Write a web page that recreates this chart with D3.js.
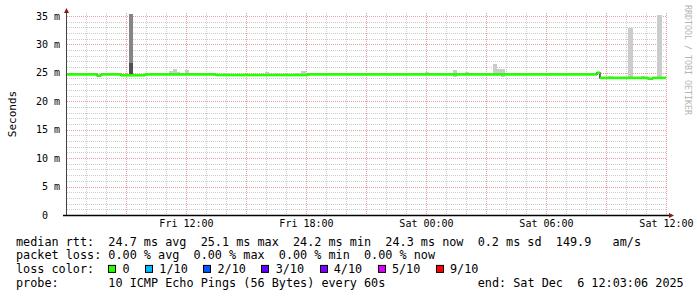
<!DOCTYPE html>
<html>
<head>
<meta charset="utf-8">
<script src="https://cdn.jsdelivr.net/npm/d3@7"></script>
<style>
  html, body { margin: 0; padding: 0; background: #fff; }
  svg { display: block; }
  text { font-family: "DejaVu Sans Mono", monospace; }
</style>
</head>
<body>
<div id="chart"></div>
<script>
// ── Data ──────────────────────────────────────────────────────
const timeStart = '2025-12-05 06:03:06';
const timeEnd   = '2025-12-06 12:03:06';

// median rtt (ms), step starts
const medianTimes = [
  '2025-12-05 06:03', '2025-12-05 07:33', '2025-12-05 07:45', '2025-12-05 08:45',
  '2025-12-05 09:57', '2025-12-05 13:30', '2025-12-05 18:06', '2025-12-06 08:33',
  '2025-12-06 08:42', '2025-12-06 11:06', '2025-12-06 11:21'
];
const medianValues = [24.7, 24.5, 24.7, 24.55, 24.7, 24.6, 24.7, 25.0, 24.1, 23.95, 24.1];
const medianEnd = '2025-12-06 12:00';

// smoke bands (spread of the 10 pings)
const smokeFrom = [
  '2025-12-05 09:09', '2025-12-05 09:09', '2025-12-05 11:09', '2025-12-05 11:21', '2025-12-05 11:33',
  '2025-12-05 11:57', '2025-12-05 13:54', '2025-12-05 15:57', '2025-12-05 16:21', '2025-12-05 17:21',
  '2025-12-05 17:45', '2025-12-05 21:45', '2025-12-05 22:21', '2025-12-05 23:21', '2025-12-05 23:57',
  '2025-12-06 00:33', '2025-12-06 00:57', '2025-12-06 01:21', '2025-12-06 01:57', '2025-12-06 03:21',
  '2025-12-06 03:33', '2025-12-06 03:45', '2025-12-06 04:21', '2025-12-06 09:06', '2025-12-06 10:06',
  '2025-12-06 10:45', '2025-12-06 11:33'
];
const smokeTo = [
  '2025-12-05 09:21', '2025-12-05 09:21', '2025-12-05 11:21', '2025-12-05 11:33', '2025-12-05 11:42',
  '2025-12-05 12:09', '2025-12-05 14:12', '2025-12-05 16:09', '2025-12-05 16:33', '2025-12-05 17:45',
  '2025-12-05 18:00', '2025-12-05 21:57', '2025-12-05 22:33', '2025-12-05 23:33', '2025-12-06 00:09',
  '2025-12-06 00:45', '2025-12-06 01:21', '2025-12-06 01:33', '2025-12-06 02:09', '2025-12-06 03:33',
  '2025-12-06 03:45', '2025-12-06 03:57', '2025-12-06 04:39', '2025-12-06 09:21', '2025-12-06 10:21',
  '2025-12-06 10:57', '2025-12-06 11:48'
];
const smokeLo = [
  24.6, 26.8, 24.6, 24.6, 24.6, 24.6, 24.6, 24.6, 24.6, 24.6,
  24.6, 24.6, 24.6, 24.6, 24.6, 24.6, 24.6, 24.3, 24.6, 24.6,
  24.6, 24.3, 24.6, 24.0, 24.0, 24.0, 24.0
];
const smokeHi = [
  26.8, 35.3, 25.3, 25.7, 25.2, 25.4, 25.0, 25.2, 25.0, 25.0,
  25.3, 25.0, 25.0, 25.0, 25.1, 25.0, 25.0, 25.5, 25.1, 26.6,
  25.7, 25.7, 25.0, 24.5, 32.9, 24.5, 35.2
];
const smokePings = [8, 5, 1, 1, 1, 1, 1, 1, 1, 1, 1, 1, 1, 1, 1, 1, 1, 1, 1, 1, 1, 1, 1, 1, 1, 1, 1];

const yTicks = [0, 5, 10, 15, 20, 25, 30, 35];

const lossLabels = ['0', '1/10', '2/10', '3/10', '4/10', '5/10', '9/10'];
const lossColors = ['#26ff00', '#00b8ff', '#0059ff', '#5e00ff', '#7e00ff', '#dd00ff', '#ff0000'];

const statLines = [
  'median rtt:  24.7 ms avg  25.1 ms max  24.2 ms min  24.3 ms now  0.2 ms sd  149.9   am/s',
  'packet loss: 0.00 % avg  0.00 % max  0.00 % min  0.00 % now'
];
const probeLine = 'probe:       10 ICMP Echo Pings (56 Bytes) every 60s';
const endLine = 'end: Sat Dec  6 12:03:06 2025';

// ── Chart ─────────────────────────────────────────────────────
const W = 697, H = 297;
const m = { left: 67, right: 667, top: 13, bottom: 215 };
const parseMin = d3.timeParse('%Y-%m-%d %H:%M');
const parseSec = d3.timeParse('%Y-%m-%d %H:%M:%S');
const t0 = parseSec(timeStart), t1 = parseSec(timeEnd);

const x = d3.scaleTime().domain([t0, t1]).range([m.left, m.right]);
const y = d3.scaleLinear().domain([0, 35.5]).range([m.bottom, m.top]);
const px = v => Math.round(v) + 0.5;

const svg = d3.select('#chart').append('svg')
  .attr('width', W).attr('height', H)
  .attr('xmlns', 'http://www.w3.org/2000/svg');
svg.append('rect').attr('width', W).attr('height', H).attr('fill', '#fff');

const GRID = 'rgba(143,143,143,0.45)', MGRID = 'rgba(222,79,79,0.55)';

// horizontal grid
const grid = svg.append('g');
d3.range(1, 36).forEach(v => {
  grid.append('line')
    .attr('x1', m.left).attr('x2', m.right)
    .attr('y1', px(y(v))).attr('y2', px(y(v)))
    .attr('stroke', v % 5 === 0 ? MGRID : GRID)
    .attr('stroke-dasharray', '1,1');
});

// vertical grid: hourly, major every 3h
d3.timeHour.range(t0, t1).forEach(t => {
  grid.append('line')
    .attr('x1', px(x(t))).attr('x2', px(x(t)))
    .attr('y1', m.top).attr('y2', m.bottom)
    .attr('stroke', t.getHours() % 3 === 0 ? MGRID : GRID)
    .attr('stroke-dasharray', '1,1');
});

// smoke
const shade = d3.scaleLinear().domain([1, 8]).range(['#cccccc', '#505050']);
svg.append('g').selectAll('rect').data(smokeFrom).enter().append('rect')
  .attr('x', (d, i) => Math.round(x(parseMin(d))))
  .attr('width', (d, i) => Math.round(x(parseMin(smokeTo[i]))) - Math.round(x(parseMin(d))))
  .attr('y', (d, i) => Math.round(y(smokeHi[i])))
  .attr('height', (d, i) => Math.round(y(smokeLo[i])) - Math.round(y(smokeHi[i])))
  .attr('fill', (d, i) => shade(smokePings[i]));

// median: thin black step line, then loss-coloured band per step
const med = medianTimes.map((t, i) => ({ t: parseMin(t), v: medianValues[i] }));
const medEnd = parseMin(medianEnd);
const stepLine = d3.line().x(d => x(d.t)).y(d => y(d.v)).curve(d3.curveStepAfter);
svg.append('path')
  .datum(med.concat([{ t: medEnd, v: med[med.length - 1].v }]))
  .attr('fill', 'none').attr('stroke', '#000').attr('stroke-width', 1.2)
  .attr('d', stepLine);

svg.append('g').selectAll('rect').data(med).enter().append('rect')
  .attr('x', d => x(d.t))
  .attr('width', (d, i) => x(i + 1 < med.length ? med[i + 1].t : medEnd) - x(d.t))
  .attr('y', d => y(d.v) - 1.3)
  .attr('height', 2.6)
  .attr('fill', lossColors[0]);

// axes lines + arrows
svg.append('line')
  .attr('x1', m.left - 0.5).attr('x2', m.left - 0.5)
  .attr('y1', m.bottom).attr('y2', m.top - 1)
  .attr('stroke', '#444').attr('stroke-width', 1);
svg.append('line')
  .attr('x1', m.left - 4).attr('x2', m.right + 3)
  .attr('y1', m.bottom + 0.5).attr('y2', m.bottom + 0.5)
  .attr('stroke', '#000').attr('stroke-width', 1.4);
svg.append('path')
  .attr('d', `M${m.left - 3},${m.top} L${m.left + 2},${m.top} L${m.left - 0.5},${m.top - 5} Z`)
  .attr('fill', '#8b1a1a');
svg.append('path')
  .attr('d', `M${m.right + 2},${m.bottom - 2} L${m.right + 2},${m.bottom + 3} L${m.right + 7},${m.bottom + 0.5} Z`)
  .attr('fill', '#8b1a1a');

// Y axis labels
const cwTick = 10 * 0.602;
svg.append('g').attr('transform', `translate(${m.left},0)`)
  .call(d3.axisLeft(y).tickValues(yTicks).tickSize(0).tickPadding(7)
    .tickFormat(d => d === 0 ? '0' : d + ' m'))
  .call(g => {
    g.select('.domain').remove();
    g.selectAll('text')
      .attr('font-family', '"DejaVu Sans Mono", monospace')
      .attr('font-size', 10).attr('fill', '#000')
      .attr('x', d => d === 0 ? -(7 + 2 * cwTick) : -7);
  });

// X axis labels
svg.append('g').attr('transform', `translate(0,${m.bottom})`)
  .call(d3.axisBottom(x).ticks(d3.timeHour.every(6)).tickSize(0).tickPadding(5)
    .tickFormat(d3.timeFormat('%a %H:%M')))
  .call(g => {
    g.select('.domain').remove();
    g.selectAll('text')
      .attr('font-family', '"DejaVu Sans Mono", monospace')
      .attr('font-size', 10).attr('fill', '#000');
  });

// vertical title + watermark
svg.append('text')
  .attr('transform', 'translate(15.5,114) rotate(-90)')
  .attr('text-anchor', 'middle').attr('font-size', 11).attr('fill', '#000')
  .text('Seconds');
svg.append('text')
  .attr('transform', 'translate(684.5,5) rotate(90)')
  .attr('font-size', 8.3).attr('fill', '#b4b4b4')
  .text('RRDTOOL / TOBI OETIKER');

// legend
const FS = 11.8, cw = FS * 0.602, lx = 16, ly = 245.5, lh = 13.7;
const legend = svg.append('g').attr('font-size', FS).attr('fill', '#000');
statLines.forEach((s, i) => {
  legend.append('text').attr('x', lx).attr('y', ly + i * lh)
    .style('white-space', 'pre').text(s);
});
legend.append('text').attr('x', lx).attr('y', ly + 2 * lh).style('white-space', 'pre').text('loss color:');
let sx = lx + 13 * cw;
lossLabels.forEach((l, i) => {
  legend.append('rect')
    .attr('x', Math.round(sx) + 0.5).attr('y', ly + 2 * lh - 7.5)
    .attr('width', 7).attr('height', 7)
    .attr('fill', lossColors[i]).attr('stroke', '#000').attr('stroke-width', 1);
  legend.append('text').attr('x', sx + 2 * cw).attr('y', ly + 2 * lh).text(l);
  sx += (l.length + 4) * cw + 1.3;
});
legend.append('text').attr('x', lx).attr('y', ly + 3 * lh).style('white-space', 'pre').text(probeLine);
legend.append('text').attr('x', lx + 65 * cw).attr('y', ly + 3 * lh).style('white-space', 'pre').text(endLine);
</script>
</body>
</html>
